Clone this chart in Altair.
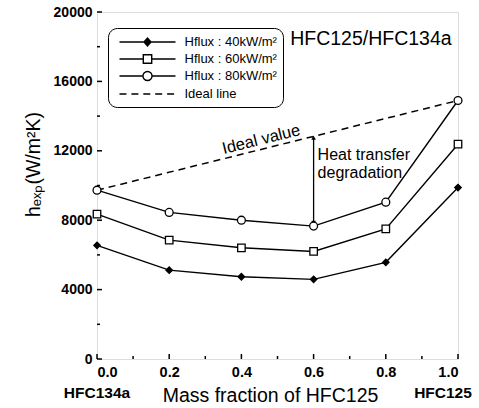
import altair as alt
import pandas as pd

# Mass fraction of HFC125 in the HFC125/HFC134a mixture
mass_fraction = [0.0, 0.2, 0.4, 0.6, 0.8, 1.0]

# Measured heat transfer coefficients (W/m2K) for each heat flux
h_40 = [6550, 5120, 4740, 4590, 5570, 9880]
h_60 = [8350, 6850, 6410, 6200, 7500, 12380]
h_80 = [9730, 8450, 8000, 7660, 9040, 14900]

series_names = ["Hflux : 40kW/m²", "Hflux : 60kW/m²", "Hflux : 80kW/m²", "Ideal line"]

# Axis tick positions
x_major = [0.0, 0.2, 0.4, 0.6, 0.8, 1.0]
x_minor = [0.1, 0.3, 0.5, 0.7, 0.9]
y_major = [0, 4000, 8000, 12000, 16000, 20000]
y_minor = [2000, 6000, 10000, 14000, 18000]

# Annotation anchors
arrow_x = [0.6]
arrow_top = [12750]
arrow_bottom = [7850]
ideal_label_x = [0.455]
ideal_label_y = [12650]
degradation_x = [0.6]
degradation_y = [11750]
mixture_label_x = [0.535]
mixture_label_y = [18450]
end_labels = ["HFC134a", "HFC125"]
end_label_x = [0.0, 1.0]

W, H = 361, 347
FONT = "Liberation Sans"

rows = []
for name, vals in zip(series_names[:3], [h_40, h_60, h_80]):
    for xv, hv in zip(mass_fraction, vals):
        rows.append({"x": xv, "h": hv, "series": name})
data = pd.DataFrame(rows)

ideal = pd.DataFrame({"x": [mass_fraction[0], mass_fraction[-1]],
                      "h": [h_80[0], h_80[-1]]})

xs = alt.Scale(domain=[0, 1], nice=False, zero=False)
ys = alt.Scale(domain=[0, 20000], nice=False)

x_axis = alt.Axis(values=x_major, format=".1f", ticks=False, domain=False, grid=False,
                  labelFont=FONT, labelFontWeight="bold", labelFontSize=14.5,
                  labelColor="black", labelPadding=6,
                  title="Mass fraction of HFC125", titleFont=FONT,
                  titleFontSize=19.5, titleFontWeight="normal", titleColor="black",
                  titleX=173, titleY=36, titleBaseline="middle")
y_axis = alt.Axis(values=y_major, format="d", ticks=False, domain=False, grid=False,
                  labelFont=FONT, labelFontWeight="bold", labelFontSize=14,
                  labelColor="black", labelPadding=5,
                  title="hₑₓₚ(W/m²K)", titleFont=FONT,
                  titleFontSize=19.5, titleFontWeight="normal", titleColor="black",
                  titlePadding=10, titleY=152)

X = lambda: alt.X("x:Q", scale=xs, axis=x_axis)
Y = lambda: alt.Y("h:Q", scale=ys, axis=y_axis)

lines = alt.Chart(data).mark_line(color="black", strokeWidth=1.4).encode(
    x=X(), y=Y(), detail="series:N")

def pts(name, shape, size, fill):
    return alt.Chart(data).transform_filter(alt.datum.series == name).mark_point(
        shape=shape, size=size, filled=True, fill=fill, stroke="black",
        strokeWidth=1.3, opacity=1).encode(x="x:Q", y="h:Q")

p40 = pts(series_names[0], "diamond", 42, "black")
p60 = pts(series_names[1], "square", 56, "white")
p80 = pts(series_names[2], "circle", 62, "white")

ideal_line = alt.Chart(ideal).mark_line(color="black", strokeWidth=1.5,
                                        strokeDash=[7, 5]).encode(x="x:Q", y="h:Q")

# Degradation arrow between the ideal line and the measured value
arrow_df = pd.DataFrame({"x": arrow_x, "top": arrow_top, "bottom": arrow_bottom})
arrow_rule = alt.Chart(arrow_df).mark_rule(color="black", strokeWidth=1.3).encode(
    x="x:Q", y="top:Q", y2="bottom:Q")
arrow_up = alt.Chart(arrow_df).mark_point(shape="triangle-up", size=22, filled=True,
                                          color="black", opacity=1).encode(x="x:Q", y="top:Q")
arrow_down = alt.Chart(arrow_df).mark_point(shape="triangle-down", size=22, filled=True,
                                            color="black", opacity=1).encode(x="x:Q", y="bottom:Q")

ideal_text = alt.Chart(pd.DataFrame({"x": ideal_label_x, "h": ideal_label_y,
                                     "t": ["Ideal value"]})).mark_text(
    font=FONT, fontSize=16.5, angle=346, color="black").encode(
    x="x:Q", y="h:Q", text="t:N")

degr_text = alt.Chart(pd.DataFrame({"x": degradation_x, "h": degradation_y})).mark_text(
    font=FONT, fontSize=16, align="left", baseline="middle", dx=4,
    lineHeight=18, color="black",
    text=["Heat transfer", "degradation"]).encode(x="x:Q", y="h:Q")

mix_text = alt.Chart(pd.DataFrame({"x": mixture_label_x, "h": mixture_label_y,
                                   "t": ["HFC125/HFC134a"]})).mark_text(
    font=FONT, fontSize=19.5, align="left", baseline="middle",
    color="black").encode(x="x:Q", y="h:Q", text="t:N")

end_df = pd.DataFrame({"x": end_label_x, "t": end_labels, "h": [0, 0]})
end_left = alt.Chart(end_df.iloc[[0]]).mark_text(
    font=FONT, fontSize=15.5, fontWeight="bold", baseline="middle",
    dy=34, color="black").encode(x="x:Q", y="h:Q", text="t:N")
end_right = alt.Chart(end_df.iloc[[1]]).mark_text(
    font=FONT, fontSize=15.5, fontWeight="bold", baseline="middle",
    dy=34, dx=-15, color="black").encode(x="x:Q", y="h:Q", text="t:N")

# Inward tick marks on the left and bottom edges
def xticks(vals, length):
    return alt.Chart(pd.DataFrame({"x": vals})).mark_rule(color="black", strokeWidth=1.5).encode(
        x="x:Q", y=alt.value(H), y2=alt.value(H - length))

def yticks(vals, length):
    return alt.Chart(pd.DataFrame({"h": vals})).mark_rule(color="black", strokeWidth=1.5).encode(
        y="h:Q", x=alt.value(0), x2=alt.value(length))

# Legend entries: line-with-marker glyphs drawn as custom symbol paths
glyphs = [
    "M-4,0H-0.5M-0.5,0L0,-0.55L0.5,0L0,0.55ZM0.5,0H4",
    "M-4,0H-0.6M-0.6,-0.6H0.6V0.6H-0.6ZM0.6,0H4",
    "M-4,0H-0.65M-0.65,0A0.65,0.65,0,1,1,0.65,0A0.65,0.65,0,1,1,-0.65,0ZM0.65,0H4",
    "M-4,0H-3M-2.3,0H-1.3M-0.6,0H0.4M1.1,0H2.1M2.8,0H3.8",
]
glyph_fill = ["black", "white", "white", "white"]
glyph_stroke = ["black", "black", "black", "black"]
legend = alt.Legend(title=None, orient="none", legendX=11, legendY=16,
                    symbolSize=196, symbolStrokeWidth=1.4, symbolStrokeColor="black",
                    symbolOffset=25.5, labelOffset=29, rowPadding=2,
                    labelFont=FONT, labelFontSize=13, labelColor="black",
                    padding=6, strokeColor="black", cornerRadius=9,
                    symbolOpacity=1)
legend_layer = alt.Chart(pd.DataFrame({"series": series_names})).mark_point(
    size=0, strokeWidth=1.4, filled=False).encode(
    shape=alt.Shape("series:N", scale=alt.Scale(domain=series_names, range=glyphs),
                    legend=legend),
    fill=alt.Fill("series:N", scale=alt.Scale(domain=series_names, range=glyph_fill),
                  legend=legend),
    stroke=alt.Stroke("series:N", scale=alt.Scale(domain=series_names, range=glyph_stroke),
                      legend=legend),
)

chart = alt.layer(
    ideal_line, arrow_rule, arrow_up, arrow_down, lines, p40, p60, p80,
    ideal_text, degr_text, mix_text, end_left, end_right,
    xticks(x_major, 5), xticks(x_minor, 3), yticks(y_major, 5), yticks(y_minor, 3),
    legend_layer,
).properties(
    width=W, height=H,
    autosize=alt.AutoSizeParams(type="none"),
    padding={"left": 97, "top": 12, "right": 21, "bottom": 49},
).configure_view(stroke="black", strokeWidth=2.2).configure(background="white")

chart.save("out.html", embed_options={"renderer": "svg", "actions": False})
